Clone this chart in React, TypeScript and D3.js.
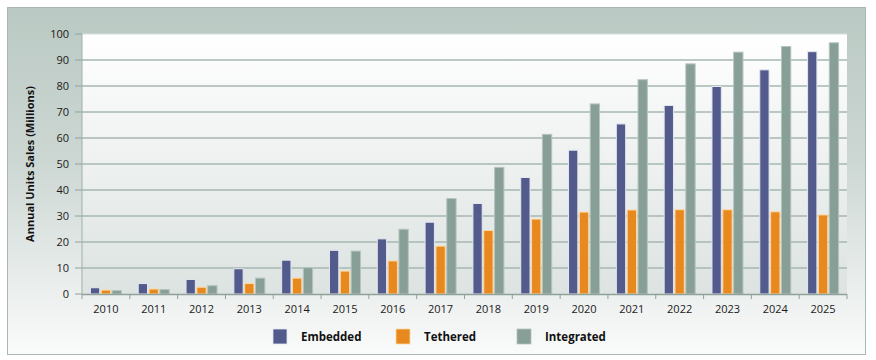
import React from 'react';
import * as d3 from 'd3';

const years = ['2010', '2011', '2012', '2013', '2014', '2015', '2016', '2017', '2018', '2019', '2020', '2021', '2022', '2023', '2024', '2025'];
const embedded = [2.6, 4.2, 5.8, 9.9, 13.2, 17, 21.4, 27.8, 35, 45, 55.5, 65.6, 72.7, 80, 86.4, 93.4];
const tethered = [1.7, 2.1, 2.8, 4.2, 6.3, 9, 12.9, 18.6, 24.6, 29, 31.7, 32.5, 32.6, 32.6, 31.8, 30.6];
const integrated = [1.5, 1.9, 3.4, 6.3, 10.3, 16.7, 25.1, 36.9, 48.9, 61.6, 73.3, 82.6, 88.7, 93.2, 95.4, 96.8];
const seriesNames = ['Embedded', 'Tethered', 'Integrated'];
const yTicks = [0, 10, 20, 30, 40, 50, 60, 70, 80, 90, 100];

const fills = ['#525b8b', '#e8891f', '#879f97'];
const strokes = ['#e4e7f1', '#fcd9a2', '#b4c4be'];

const W = 876;
const H = 360;
const plot = { left: 82, right: 847, top: 34, bottom: 294 };
const font = '"Open Sans", "DejaVu Sans", sans-serif';

export default function App() {
  const allSeries = [embedded, tethered, integrated];

  const x = d3.scaleBand<string>().domain(years).range([plot.left, plot.right]).padding(0);
  const bw = x.bandwidth();
  const groupW = 32;
  const xs = d3
    .scaleBand<string>()
    .domain(seriesNames)
    .range([(bw - groupW) / 2, (bw + groupW) / 2])
    .paddingInner(0.05);
  const y = d3.scaleLinear().domain([0, 100]).range([plot.bottom, plot.top]);

  const legendX = [273, 396, 517];

  return (
    <svg width={W} height={H} style={{ position: 'absolute', left: 0, top: 0 }}>
      <defs>
        <linearGradient id="outerBg" x1="0" y1="0" x2="0" y2="1">
          <stop offset="0" stopColor="#bac9c3" />
          <stop offset="0.45" stopColor="#cdd7d3" />
          <stop offset="1" stopColor="#fafbfb" />
        </linearGradient>
        <linearGradient id="plotBg" x1="0" y1="0" x2="0" y2="1">
          <stop offset="0" stopColor="#ffffff" />
          <stop offset="1" stopColor="#dce3e0" />
        </linearGradient>
      </defs>

      <rect x={7.5} y={7.5} width={858} height={347} fill="url(#outerBg)" stroke="#a9b8b3" strokeWidth={1} />
      <rect x={plot.left} y={plot.top} width={plot.right - plot.left} height={plot.bottom - plot.top} fill="url(#plotBg)" />

      {/* gridlines + y ticks */}
      {yTicks.map((t) => (
        <g key={t}>
          {t > 0 && t < 100 && (
            <line x1={plot.left} x2={plot.right} y1={y(t)} y2={y(t)} stroke="#a6b7b1" strokeWidth={1.5} />
          )}
          <line x1={75} x2={plot.left} y1={y(t)} y2={y(t)} stroke="#8fa19b" strokeWidth={1} />
          <text x={69} y={y(t)} dy="0.35em" textAnchor="end" fontSize={11} fontFamily={font} fill="#1a1a1a">
            {t}
          </text>
        </g>
      ))}
      <line x1={plot.left} x2={plot.right} y1={plot.top} y2={plot.top} stroke="#d5dddA" strokeWidth={1} />
      <line x1={plot.left} x2={plot.left} y1={plot.top} y2={plot.bottom} stroke="#9fb0aa" strokeWidth={1} />

      {/* bars */}
      {years.map((yr, i) => (
        <g key={yr} transform={`translate(${x(yr)},0)`}>
          {seriesNames.map((s, j) => {
            const v = allSeries[j][i];
            return (
              <rect
                key={s}
                x={(xs(s) as number) + 0.5}
                y={y(v) + 0.5}
                width={xs.bandwidth() - 1}
                height={Math.max(0, y(0) - y(v) - 0.5)}
                fill={fills[j]}
                stroke={strokes[j]}
                strokeWidth={1}
              />
            );
          })}
        </g>
      ))}

      {/* x axis */}
      <line x1={plot.left} x2={plot.right} y1={plot.bottom + 0.5} y2={plot.bottom + 0.5} stroke="#8fa19b" strokeWidth={1.5} />
      {years.map((yr) => (
        <g key={yr}>
          <line
            x1={(x(yr) as number)}
            x2={(x(yr) as number)}
            y1={plot.bottom}
            y2={plot.bottom + 5}
            stroke="#8fa19b"
          />
          <text x={(x(yr) as number) + bw / 2} y={313} textAnchor="middle" fontSize={11} fontFamily={font} fill="#1a1a1a">
            {yr}
          </text>
        </g>
      ))}
      <line x1={plot.right} x2={plot.right} y1={plot.bottom} y2={plot.bottom + 5} stroke="#8fa19b" />

      {/* y axis title */}
      <text
        transform={`translate(34,${(plot.top + plot.bottom) / 2}) rotate(-90)`}
        textAnchor="middle"
        fontSize={11}
        fontWeight="bold"
        fontFamily={font}
        fill="#111"
      >
        Annual Units Sales (Millions)
      </text>

      {/* legend */}
      {seriesNames.map((s, j) => (
        <g key={s}>
          <rect x={legendX[j]} y={329} width={14} height={15} fill={fills[j]} stroke={strokes[j]} strokeWidth={0.8} />
          <text x={legendX[j] + 28} y={341} fontSize={11.5} fontWeight="bold" fontFamily={font} fill="#111">
            {s}
          </text>
        </g>
      ))}
    </svg>
  );
}
